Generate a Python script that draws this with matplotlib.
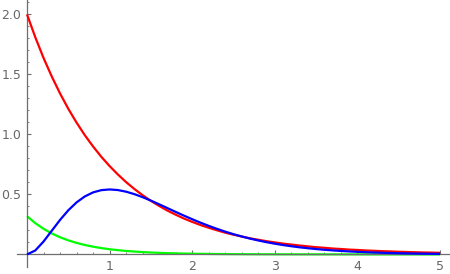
import matplotlib
matplotlib.use("Agg")
import matplotlib.pyplot as plt
from matplotlib.ticker import FixedLocator

x = [round(0.1 * i, 1) for i in range(51)]

red = [2.000, 1.810, 1.637, 1.482, 1.341, 1.213, 1.098, 0.993, 0.899, 0.813,
       0.736, 0.666, 0.602, 0.545, 0.493, 0.446, 0.404, 0.365, 0.331, 0.299,
       0.271, 0.245, 0.222, 0.201, 0.181, 0.164, 0.149, 0.134, 0.122, 0.110,
       0.100, 0.090, 0.082, 0.074, 0.067, 0.060, 0.055, 0.049, 0.045, 0.040,
       0.037, 0.033, 0.030, 0.027, 0.025, 0.022, 0.020, 0.018, 0.016, 0.015,
       0.013]

blue = [0.0, 0.0327, 0.1073, 0.1976, 0.2876, 0.3679, 0.4337, 0.4833, 0.5169, 0.5356,
        0.5413, 0.5363, 0.5225, 0.5021, 0.4768, 0.4481, 0.4174, 0.3858, 0.3541, 0.3230,
        0.2931, 0.2645, 0.2377, 0.2127, 0.1896, 0.1684, 0.1492, 0.1317, 0.1160, 0.1019,
        0.0892, 0.0780, 0.0681, 0.0592, 0.0515, 0.0447, 0.0387, 0.0335, 0.0289, 0.0249,
        0.0215, 0.0185, 0.0159, 0.0136, 0.0117, 0.0100, 0.0085, 0.0073, 0.0062, 0.0053,
        0.0045]

green = [0.3183, 0.2606, 0.2134, 0.1747, 0.1430, 0.1171, 0.0959, 0.0785, 0.0643, 0.0526,
         0.0431, 0.0353, 0.0289, 0.0236, 0.0194, 0.0158, 0.0130, 0.0106, 0.0087, 0.0071,
         0.0058, 0.0048, 0.0039, 0.0032, 0.0026, 0.0021, 0.0018, 0.0014, 0.0012, 0.0010,
         0.0008, 0.0006, 0.0005, 0.0004, 0.0004, 0.0003, 0.0002, 0.0002, 0.0002, 0.0001,
         0.0001, 0.0001, 0.0001, 0.0001, 0.0000, 0.0000, 0.0000, 0.0000, 0.0000, 0.0000,
         0.0000]

x_major = [1, 2, 3, 4, 5]
x_labels = ["1", "2", "3", "4", "5"]
y_major = [0.5, 1.0, 1.5, 2.0]
y_labels = ["0.5", "1.0", "1.5", "2.0"]

axis_color = "#6e6e6e"
text_color = "#666666"

fig = plt.figure(figsize=(4.5, 2.74), dpi=100)
ax = fig.add_axes([0.038, 0.0255, 0.962, 0.9745])
ax.set_xlim(-0.12, 5.12)
ax.set_ylim(-0.105, 2.12)

lw = 1.6
ax.plot(x, red, color=(1, 0, 0), lw=lw, zorder=3, solid_capstyle="butt")
ax.plot(x, green, color=(0, 1, 0), lw=lw, zorder=2, solid_capstyle="butt")
ax.plot(x, blue, color=(0, 0, 1), lw=lw, zorder=4, solid_capstyle="butt")

for s in ["top", "right"]:
    ax.spines[s].set_visible(False)
ax.spines["left"].set_position(("data", 0))
ax.spines["bottom"].set_position(("data", 0))
for s in ["left", "bottom"]:
    ax.spines[s].set_color(axis_color)
    ax.spines[s].set_linewidth(0.9)

ax.set_xticks(x_major)
ax.set_xticklabels(x_labels)
ax.set_yticks(y_major)
ax.set_yticklabels(y_labels)
ax.xaxis.set_minor_locator(FixedLocator([round(0.2 * i, 1) for i in range(1, 26)]))
ax.yaxis.set_minor_locator(FixedLocator([round(0.1 * i, 1) for i in range(1, 22)]))

ax.tick_params(which="major", direction="in", length=3.0, width=0.8,
               color=axis_color, labelcolor=text_color, labelsize=9)
ax.tick_params(which="minor", direction="in", length=1.7, width=0.6, color=axis_color)
ax.tick_params(axis="y", which="major", pad=4.0)
ax.tick_params(axis="x", which="major", pad=4.0)
ax.patch.set_alpha(0)

fig.savefig("out.png", dpi=100)
